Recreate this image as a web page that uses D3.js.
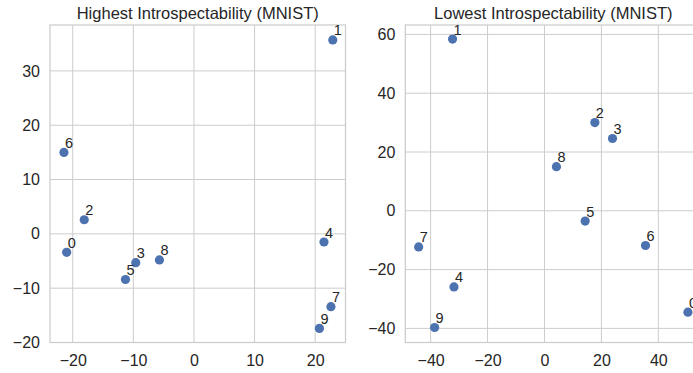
<!DOCTYPE html>
<html>
<head>
<meta charset="utf-8">
<script src="https://cdn.jsdelivr.net/npm/d3@7"></script>
<style>
  html, body { margin: 0; padding: 0; background: #fff; overflow: hidden; }
  text { font-family: "Liberation Sans", Arial, sans-serif; fill: #262626; }
</style>
</head>
<body>
<svg id="chart" width="693" height="373"></svg>
<script>
// Digit labels
const labels = ["0", "1", "2", "3", "4", "5", "6", "7", "8", "9"];

// Left panel: Highest Introspectability
const highX = [-21.0, 22.9, -18.1, -9.6, 21.45, -11.3, -21.45, 22.6, -5.7, 20.7];
const highY = [-3.4, 35.7, 2.6, -5.3, -1.5, -8.4, 15.0, -13.4, -4.8, -17.4];

// Right panel: Lowest Introspectability
const lowX = [50.4, -32.3, 17.7, 23.9, -31.8, 14.3, 35.5, -44.2, 4.2, -38.6];
const lowY = [-34.5, 58.4, 30.0, 24.6, -25.9, -3.5, -11.8, -12.3, 15.0, -39.7];

// Tick values
const highXTicks = [-20, -10, 0, 10, 20];
const highYTicks = [-20, -10, 0, 10, 20, 30];
const lowXTicks = [-40, -20, 0, 20, 40];
const lowYTicks = [-40, -20, 0, 20, 40, 60];

const titles = ["Highest Introspectability (MNIST)", "Lowest Introspectability (MNIST)"];

const svg = d3.select("#chart");
const gridColor = "#cccccc";
const pointColor = "#4c72b0";
const FONT = '"Liberation Sans", Arial, sans-serif';

function panel(cfg) {
  const { left, top, width, height, xDomain, yDomain, xs, ys, xTicks, yTicks, title } = cfg;
  const x = d3.scaleLinear().domain(xDomain).range([left, left + width]);
  const y = d3.scaleLinear().domain(yDomain).range([top + height, top]);
  const g = svg.append("g");

  const clipId = "clip" + Math.round(left);
  g.append("clipPath").attr("id", clipId)
    .append("rect").attr("x", left).attr("y", top).attr("width", width).attr("height", height);

  // gridlines
  g.append("g").selectAll("line").data(xTicks).join("line")
    .attr("x1", d => x(d)).attr("x2", d => x(d))
    .attr("y1", top).attr("y2", top + height)
    .attr("stroke", gridColor).attr("stroke-width", 1);
  g.append("g").selectAll("line").data(yTicks).join("line")
    .attr("y1", d => y(d)).attr("y2", d => y(d))
    .attr("x1", left).attr("x2", left + width)
    .attr("stroke", gridColor).attr("stroke-width", 1);

  // frame
  g.append("rect").attr("x", left).attr("y", top).attr("width", width).attr("height", height)
    .attr("fill", "none").attr("stroke", gridColor).attr("stroke-width", 1.25);

  // axes (labels only)
  const xAxis = d3.axisBottom(x).tickValues(xTicks).tickSize(0).tickPadding(12);
  const xg = g.append("g").attr("transform", `translate(0,${top + height})`).call(xAxis);
  xg.select(".domain").remove();
  xg.selectAll("text").attr("font-size", 16).style("font-family", FONT).attr("fill", "#262626");

  const yAxis = d3.axisLeft(y).tickValues(yTicks).tickSize(0).tickPadding(10);
  const yg = g.append("g").attr("transform", `translate(${left},0)`).call(yAxis);
  yg.select(".domain").remove();
  yg.selectAll("text").attr("font-size", 16).style("font-family", FONT).attr("fill", "#262626");

  // title
  g.append("text").attr("x", left + width / 2).attr("y", 18.5)
    .attr("text-anchor", "middle").attr("font-size", 16.5).text(title);

  // points
  const data = labels.map((l, i) => ({ l, x: xs[i], y: ys[i] }));
  const pg = g.append("g").attr("clip-path", `url(#${clipId})`);
  pg.selectAll("circle").data(data).join("circle")
    .attr("cx", d => x(d.x)).attr("cy", d => y(d.y)).attr("r", 4.6)
    .attr("fill", pointColor);
  g.append("g").selectAll("text").data(data).join("text")
    .attr("x", d => x(d.x) + 1).attr("y", d => y(d.y) - 4.5)
    .attr("font-size", 14.5).text(d => d.l);
}

panel({
  left: 50, top: 25, width: 295.5, height: 317.5,
  xDomain: [-23.75, 25.0], yDomain: [-20, 38.45],
  xs: highX, ys: highY, xTicks: highXTicks, yTicks: highYTicks, title: titles[0]
});

panel({
  left: 405.3, top: 25, width: 296, height: 317.5,
  xDomain: [-48.9, 55.1], yDomain: [-44.8, 63.2],
  xs: lowX, ys: lowY, xTicks: lowXTicks, yTicks: lowYTicks, title: titles[1]
});
</script>
</body>
</html>
